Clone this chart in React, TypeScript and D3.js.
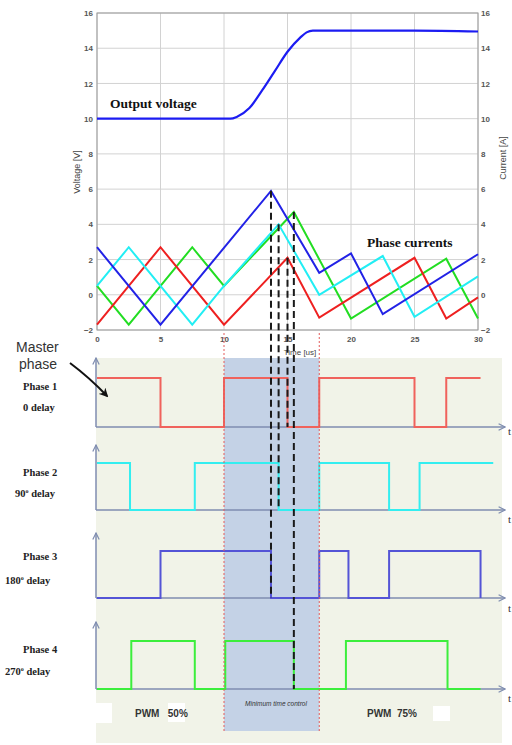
import React, { useEffect, useRef } from 'react';
import * as d3 from 'd3';

const timeTicks = [0, 5, 10, 15, 20, 25, 30];
const valueTicks = [-2, 0, 2, 4, 6, 8, 10, 12, 14, 16];

// output voltage [us, V]
const outputVoltage: [number, number][] = [
  [0, 10], [10.5, 10], [11, 10.1], [12, 10.6], [13, 11.6], [14, 12.7],
  [15, 13.8], [16, 14.6], [16.5, 14.9], [17, 15], [25, 15], [30, 14.95],
];

// phase currents [us, A]
const redCurrent: [number, number][] = [
  [0, -1.7], [5, 2.7], [10, -1.7], [15, 2.1], [17.5, -1.3], [25, 2.1], [27.5, -1.35], [30, -0.15],
];
const greenCurrent: [number, number][] = [
  [0, 0.5], [2.5, -1.7], [7.5, 2.7], [10, 0.5], [15.5, 4.7], [20, -1.35], [27.5, 2.05], [30, -1.35],
];
const cyanCurrent: [number, number][] = [
  [0, 0.5], [2.5, 2.7], [7.5, -1.7], [10, 0.5], [14.3, 4.0], [17.5, 0], [22.5, 2.2], [25, -1.25], [30, 1.05],
];
const blueCurrent: [number, number][] = [
  [0, 2.7], [5, -1.7], [13.7, 5.9], [17.5, 1.25], [20, 2.35], [22.5, -1.1], [30, 2.3],
];

// gate signals [us, level]
const phase1Gate: [number, number][] = [[0, 1], [5, 0], [10, 1], [15, 0], [17.5, 1], [25, 0], [27.5, 1], [30.2, 1]];
const phase2Gate: [number, number][] = [[0, 1], [2.6, 0], [7.7, 1], [14.3, 0], [17.5, 1], [23, 0], [25.4, 1], [31.2, 1]];
const phase3Gate: [number, number][] = [[0, 0], [5, 1], [13.7, 0], [17.5, 1], [19.8, 0], [23, 1], [30.2, 0]];
const phase4Gate: [number, number][] = [[0, 0], [2.7, 1], [7.7, 0], [10.1, 1], [15.5, 0], [19.6, 1], [27.6, 0], [30.2, 0]];

const phaseNames = ['Phase 1', 'Phase 2', 'Phase 3', 'Phase 4'];
const phaseDelays = ['0', '90', '180', '270'];

// current peak that ends each phase's on-time (phase index, t, A)
const peakPhase = [0, 1, 2, 3];
const peakTimes = [15.0, 14.3, 13.7, 15.5];
const peakValues = [2.1, 4.0, 5.9, 4.7];

const minTimeWindow = [10, 17.5];

const App = () => {
  const ref = useRef<SVGSVGElement | null>(null);

  useEffect(() => {
    if (!ref.current) return;
    const svg = d3.select(ref.current);
    svg.selectAll('*').remove();

    const x = d3.scaleLinear().domain([0, 30]).range([97, 478]);
    const y = d3.scaleLinear().domain([-2, 16]).range([330, 13]);

    const panels = [
      { top: 358, base: 427, high: 378, color: '#f0625c', gate: phase1Gate, label: 390, delay: 411, t: 435 },
      { top: 445, base: 510, high: 463, color: '#33eef0', gate: phase2Gate, label: 476, delay: 497, t: 523 },
      { top: 533, base: 598, high: 551, color: '#5454d6', gate: phase3Gate, label: 560, delay: 584, t: 612 },
      { top: 622, base: 689, high: 641, color: '#3cee3c', gate: phase4Gate, label: 653, delay: 675, t: 702 },
    ];

    const defs = svg.append('defs');
    defs.append('marker')
      .attr('id', 'chev').attr('viewBox', '0 0 10 10').attr('refX', 9).attr('refY', 5)
      .attr('markerWidth', 8).attr('markerHeight', 8).attr('markerUnits', 'userSpaceOnUse')
      .attr('orient', 'auto')
      .append('path').attr('d', 'M1,1 L9,5 L1,9').attr('fill', 'none')
      .attr('stroke', '#7f8db0').attr('stroke-width', 1.5);
    defs.append('marker')
      .attr('id', 'blackhead').attr('viewBox', '0 0 10 10').attr('refX', 8).attr('refY', 5)
      .attr('markerWidth', 9).attr('markerHeight', 9).attr('markerUnits', 'userSpaceOnUse')
      .attr('orient', 'auto')
      .append('path').attr('d', 'M0,0 L10,5 L0,10 L3,5 Z').attr('fill', '#111');

    svg.append('rect').attr('width', 512).attr('height', 745).attr('fill', '#fff');

    // ---- top chart ----
    const grid = svg.append('g').attr('stroke', '#d2d2d2').attr('stroke-width', 1);
    timeTicks.forEach(t => {
      grid.append('line').attr('x1', x(t)).attr('x2', x(t)).attr('y1', y(-2)).attr('y2', y(16));
    });
    valueTicks.forEach(v => {
      grid.append('line').attr('x1', x(0)).attr('x2', x(30)).attr('y1', y(v)).attr('y2', y(v));
    });
    svg.append('rect').attr('x', x(0)).attr('y', y(16)).attr('width', x(30) - x(0)).attr('height', y(-2) - y(16))
      .attr('fill', 'none').attr('stroke', '#9a9a9a');

    const tickStyle = (g: any) => {
      g.select('.domain').remove();
      g.selectAll('text').attr('font-family', 'Liberation Sans, Arial, sans-serif')
        .attr('font-size', 8).attr('fill', '#555').attr('font-weight', 'bold');
    };
    svg.append('g').attr('transform', `translate(${x(0)},0)`)
      .call(d3.axisLeft(y).tickValues(valueTicks).tickSize(0).tickPadding(4)).call(tickStyle);
    svg.append('g').attr('transform', `translate(${x(30)},0)`)
      .call(d3.axisRight(y).tickValues(valueTicks).tickSize(0).tickPadding(3)).call(tickStyle);
    svg.append('g').attr('transform', `translate(0,${y(-2)})`)
      .call(d3.axisBottom(x).tickValues(timeTicks).tickSize(0).tickPadding(6)).call(tickStyle);

    svg.append('text').attr('transform', `translate(80,172) rotate(-90)`).attr('text-anchor', 'middle')
      .attr('font-family', 'Liberation Sans, Arial, sans-serif').attr('font-size', 9).attr('fill', '#444')
      .text('Voltage [V]');
    svg.append('text').attr('transform', `translate(506,158) rotate(-90)`).attr('text-anchor', 'middle')
      .attr('font-family', 'Liberation Sans, Arial, sans-serif').attr('font-size', 9).attr('fill', '#444')
      .text('Current [A]');

    const line = d3.line<[number, number]>().x(d => x(d[0])).y(d => y(d[1]));
    const smooth = d3.line<[number, number]>().x(d => x(d[0])).y(d => y(d[1])).curve(d3.curveMonotoneX);

    svg.append('path').attr('d', smooth(outputVoltage)).attr('fill', 'none').attr('stroke', '#1c1cf2').attr('stroke-width', 2.2);

    const currents: [[number, number][], string][] = [
      [greenCurrent, '#22dd22'], [redCurrent, '#ee2020'], [cyanCurrent, '#22eef4'], [blueCurrent, '#2222e6'],
    ];
    currents.forEach(([data, color]) => {
      svg.append('path').attr('d', line(data)).attr('fill', 'none').attr('stroke', color).attr('stroke-width', 2);
    });

    svg.append('text').attr('x', 110).attr('y', 108).attr('font-family', 'Liberation Serif, Times New Roman, serif')
      .attr('font-weight', 'bold').attr('font-size', 13.5).attr('fill', '#111').text('Output voltage');
    svg.append('text').attr('x', 367).attr('y', 247).attr('font-family', 'Liberation Serif, Times New Roman, serif')
      .attr('font-weight', 'bold').attr('font-size', 13.5).attr('fill', '#111').text('Phase currents');

    // ---- timing diagram ----
    svg.append('rect').attr('x', 96).attr('y', 358).attr('width', 406).attr('height', 385).attr('fill', '#f1f3e8');
    svg.append('rect').attr('x', x(minTimeWindow[0])).attr('y', 358)
      .attr('width', x(minTimeWindow[1]) - x(minTimeWindow[0])).attr('height', 373).attr('fill', '#c4d2e6');

    svg.append('text').attr('x', 300).attr('y', 355).attr('text-anchor', 'middle')
      .attr('font-family', 'Liberation Sans, Arial, sans-serif').attr('font-size', 8).attr('fill', '#444')
      .text('Time [us]');

    const gateLine = d3.line<[number, number]>().curve(d3.curveStepAfter);

    panels.forEach((p, i) => {
      const ly = d3.scaleLinear().domain([0, 1]).range([p.base, p.high]);
      svg.append('line').attr('x1', 96).attr('x2', 96).attr('y1', p.base).attr('y2', p.top)
        .attr('stroke', '#7f8db0').attr('stroke-width', 1.5).attr('marker-end', 'url(#chev)');
      svg.append('line').attr('x1', 96).attr('x2', 505).attr('y1', p.base).attr('y2', p.base)
        .attr('stroke', '#7f8db0').attr('stroke-width', 1.5).attr('marker-end', 'url(#chev)');
      svg.append('path')
        .attr('d', gateLine(p.gate.map(d => [x(d[0]), ly(d[1])] as [number, number])))
        .attr('fill', 'none').attr('stroke', p.color).attr('stroke-width', 2);

      svg.append('text').attr('x', 508).attr('y', p.t).attr('font-family', 'Liberation Serif, serif')
        .attr('font-size', 11).attr('fill', '#333').text('t');

      svg.append('text').attr('x', 23).attr('y', p.label).attr('font-family', 'Liberation Serif, Times New Roman, serif')
        .attr('font-weight', 'bold').attr('font-size', 10.5).attr('fill', '#222').text(phaseNames[i]);
      const dt = svg.append('text').attr('x', i === 0 ? 23 : i === 1 ? 15 : 5).attr('y', p.delay)
        .attr('font-family', 'Liberation Serif, Times New Roman, serif')
        .attr('font-weight', 'bold').attr('font-size', 10.5).attr('fill', '#222');
      if (i === 0) {
        dt.text('0 delay');
      } else {
        dt.append('tspan').text(phaseDelays[i]);
        dt.append('tspan').attr('font-size', 6).attr('dy', -4).text('o');
        dt.append('tspan').attr('dy', 4).text(' delay');
      }
    });

    // red dotted boundaries of minimum time control window
    minTimeWindow.forEach(t => {
      svg.append('line').attr('x1', x(t)).attr('x2', x(t)).attr('y1', 333).attr('y2', 731)
        .attr('stroke', '#e45a5a').attr('stroke-width', 1).attr('stroke-dasharray', '2,2');
    });

    // dashed connectors from current peaks to gate turn-off
    peakPhase.forEach((pi, k) => {
      svg.append('line').attr('x1', x(peakTimes[k])).attr('x2', x(peakTimes[k]))
        .attr('y1', y(peakValues[k])).attr('y2', panels[pi].base)
        .attr('stroke', '#1a1a1a').attr('stroke-width', 2).attr('stroke-dasharray', '7,4');
    });

    // labels under the diagram
    [[96, 703, 16, 20], [168, 703, 17, 19], [433, 706, 17, 15]].forEach(([bx, by, bw, bh]) => {
      svg.append('rect').attr('x', bx).attr('y', by).attr('width', bw).attr('height', bh).attr('fill', '#fff');
    });
    svg.append('text').attr('x', 135).attr('y', 717).attr('font-family', 'Liberation Sans, Arial, sans-serif')
      .attr('font-weight', 'bold').attr('font-size', 10).attr('fill', '#333').attr('xml:space', 'preserve')
      .text('PWM   50%');
    svg.append('text').attr('x', 367).attr('y', 717).attr('font-family', 'Liberation Sans, Arial, sans-serif')
      .attr('font-weight', 'bold').attr('font-size', 10).attr('fill', '#333').attr('xml:space', 'preserve')
      .text('PWM  75%');
    svg.append('text').attr('x', 276).attr('y', 706).attr('text-anchor', 'middle')
      .attr('font-family', 'Liberation Sans, Arial, sans-serif').attr('font-style', 'italic')
      .attr('font-size', 6.5).attr('fill', '#333').text('Minimum time control');

    svg.append('text').attr('x', 16).attr('y', 352).attr('font-family', 'Liberation Sans, Arial, sans-serif')
      .attr('font-size', 14).attr('fill', '#333').text('Master');
    svg.append('text').attr('x', 19).attr('y', 369).attr('font-family', 'Liberation Sans, Arial, sans-serif')
      .attr('font-size', 14).attr('fill', '#333').text('phase');
    svg.append('path').attr('d', 'M70,363 Q90,378 107,396').attr('fill', 'none')
      .attr('stroke', '#111').attr('stroke-width', 2).attr('marker-end', 'url(#blackhead)');
  }, []);

  return <svg ref={ref} width={512} height={745} style={{ position: 'absolute', left: 0, top: 0 }} />;
};

export default App;
